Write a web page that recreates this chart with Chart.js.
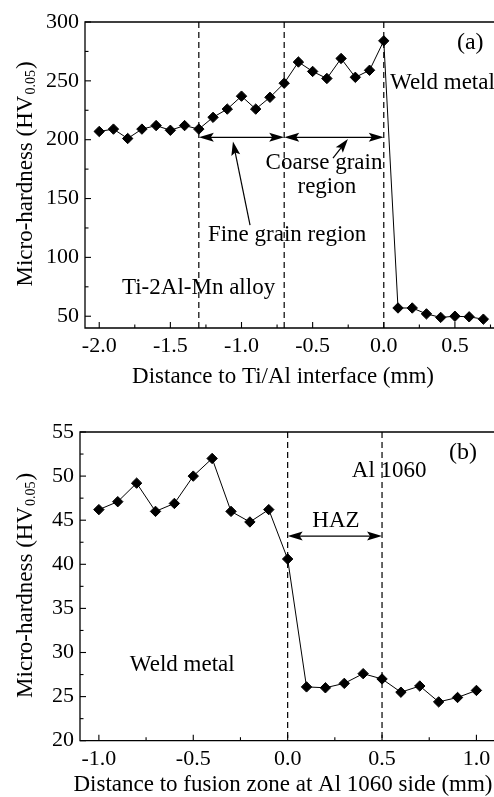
<!DOCTYPE html>
<html><head><meta charset="utf-8">
<script src="https://cdn.jsdelivr.net/npm/chart.js@4/dist/chart.umd.min.js"></script>
<style>
html,body{margin:0;padding:0;background:#fff;overflow:hidden;width:494px;height:797px;position:relative;}
.wrap{position:absolute;left:0;width:520px;}
#w1{top:0;height:400px;}
#w2{top:400px;height:397px;}
canvas{display:block;}
</style></head><body>
<div class="wrap" id="w1"><canvas id="c1" width="520" height="400"></canvas></div>
<div class="wrap" id="w2"><canvas id="c2" width="520" height="397"></canvas></div>
<script>
// ---------- data (a) ----------
const distanceA = [-2.0,-1.9,-1.8,-1.7,-1.6,-1.5,-1.4,-1.3,-1.2,-1.1,-1.0,-0.9,-0.8,-0.7,-0.6,-0.5,-0.4,-0.3,-0.2,-0.1,0.0,0.1,0.2,0.3,0.4,0.5,0.6,0.7];
const hardnessA = [207,209,201,209,212,208,212,209,219,226,237,226,236,248,266,258,252,269,253,259,284,57,57,52,49,50,49.5,47.5];
const xTicksA = [-2.0,-1.5,-1.0,-0.5,0.0,0.5];
const yTicksA = [50,100,150,200,250,300];
// ---------- data (b) ----------
const distanceB = [-1.0,-0.9,-0.8,-0.7,-0.6,-0.5,-0.4,-0.3,-0.2,-0.1,0.0,0.1,0.2,0.3,0.4,0.5,0.6,0.7,0.8,0.9,1.0];
const hardnessB = [46.2,47.1,49.2,46.0,46.9,50.0,52.0,46.0,44.8,46.2,40.6,26.1,26.0,26.5,27.6,27.0,25.5,26.2,24.4,24.9,25.7];
const xTicksB = [-1.0,-0.5,0.0,0.5,1.0];
const yTicksB = [20,25,30,35,40,45,50,55];

const SERIF = "'Liberation Serif','DejaVu Serif',serif";
const f = s => s + 'px ' + SERIF;

function minorTicks(majors, min, max){
  const step = majors[1]-majors[0], out=[];
  for(let i=-1;i<majors.length;i++){
    const v = i<0 ? majors[0]-step/2 : majors[i]+step/2;
    if(v>min+1e-9 && v<max-1e-9) out.push(v);
  }
  return out;
}
function head(ctx, tx, ty, ang, len, half){
  const c=Math.cos(ang), s=Math.sin(ang);
  ctx.beginPath();
  ctx.moveTo(tx,ty);
  ctx.lineTo(tx-len*c+half*s, ty-len*s-half*c);
  ctx.lineTo(tx-len*c*0.8, ty-len*s*0.8);
  ctx.lineTo(tx-len*c-half*s, ty-len*s+half*c);
  ctx.closePath(); ctx.fill();
}
function yTitle(ctx, cx, cy){
  const a='Micro-hardness (HV', b='0.05', c=')';
  ctx.save();
  ctx.translate(cx, cy); ctx.rotate(-Math.PI/2);
  ctx.fillStyle='#000'; ctx.textBaseline='alphabetic'; ctx.textAlign='left';
  ctx.font=f(23); const wa=ctx.measureText(a).width, wc=ctx.measureText(c).width;
  ctx.font=f(14); const wb=ctx.measureText(b).width;
  let x=-(wa+wb+wc)/2;
  ctx.font=f(23); ctx.fillText(a,x,8); x+=wa;
  ctx.font=f(14); ctx.fillText(b,x+1,11); x+=wb+2;
  ctx.font=f(23); ctx.fillText(c,x,8);
  ctx.restore();
}

const framePlugin = {
  id:'frame',
  beforeDatasetsDraw(chart, args, o){
    const ctx=chart.ctx, xs=chart.scales.x, {top,bottom}=chart.chartArea;
    ctx.save(); ctx.strokeStyle='#000'; ctx.lineWidth=1.2; ctx.setLineDash([6,4]);
    o.dashed.forEach(v=>{ const p=xs.getPixelForValue(v); ctx.beginPath(); ctx.moveTo(p,top); ctx.lineTo(p,bottom); ctx.stroke(); });
    ctx.restore();
  },
  afterDraw(chart, args, o){
    const ctx=chart.ctx, xs=chart.scales.x, ys=chart.scales.y;
    const {left,right,top,bottom}=chart.chartArea;
    ctx.save();
    ctx.strokeStyle='#000'; ctx.fillStyle='#000'; ctx.lineWidth=1.3; ctx.setLineDash([]);
    ctx.beginPath(); ctx.moveTo(left,top); ctx.lineTo(right,top); ctx.lineTo(right,bottom); ctx.lineTo(left,bottom); ctx.closePath(); ctx.stroke();
    ctx.lineWidth=1.1;
    const tick=(vals,len,isX)=>vals.forEach(v=>{
      ctx.beginPath();
      if(isX){ const p=xs.getPixelForValue(v); ctx.moveTo(p,bottom); ctx.lineTo(p,bottom-len); }
      else { const p=ys.getPixelForValue(v); ctx.moveTo(left,p); ctx.lineTo(left+len,p); }
      ctx.stroke();
    });
    tick(o.xMaj,6,true); tick(minorTicks(o.xMaj,xs.min,xs.max),3.5,true);
    tick(o.yMaj,6,false); tick(minorTicks(o.yMaj,ys.min,ys.max),3.5,false);
    // double arrows
    ctx.lineWidth=1.4;
    o.spans.forEach(s=>{
      const a=xs.getPixelForValue(s[0]), b=xs.getPixelForValue(s[1]), y=ys.getPixelForValue(s[2]);
      ctx.beginPath(); ctx.moveTo(a+4,y); ctx.lineTo(b-4,y); ctx.stroke();
      head(ctx,a,y,Math.PI,15,4.5); head(ctx,b,y,0,15,4.5);
    });
    // pointer arrows
    ctx.lineWidth=1.2;
    o.pointers.forEach(p=>{
      const x1=xs.getPixelForValue(p[0]), y1=ys.getPixelForValue(p[1]), x2=xs.getPixelForValue(p[2]), y2=ys.getPixelForValue(p[3]);
      const ang=Math.atan2(y2-y1,x2-x1);
      ctx.beginPath(); ctx.moveTo(x1,y1); ctx.lineTo(x2-8*Math.cos(ang),y2-8*Math.sin(ang)); ctx.stroke();
      head(ctx,x2,y2,ang,14,4.5);
    });
    // labels
    ctx.textBaseline='middle';
    o.labels.forEach(l=>{
      ctx.font=f(l[4]||23); ctx.textAlign=l[3];
      ctx.fillText(l[0], xs.getPixelForValue(l[1]), ys.getPixelForValue(l[2]));
    });
    // axis titles
    ctx.textAlign='center'; ctx.font=f(23);
    ctx.fillText(o.xTitle, o.xTitleX, o.xTitleY);
    yTitle(ctx, o.yTitleX, (top+bottom)/2);
    ctx.restore();
  }
};

function makeChart(id, xs, ys, xmin, xmax, ymin, ymax, xTicks, yTicks, yWidth, xHeight, pad, frame, xDec){
  return new Chart(document.getElementById(id), {
    type:'line',
    data:{ datasets:[{
      data: xs.map((x,i)=>({x:x, y:ys[i]})),
      borderColor:'#000', borderWidth:1, tension:0,
      pointStyle:'rectRot', pointRadius:5.2, pointBackgroundColor:'#000', pointBorderColor:'#000', pointBorderWidth:1
    }]},
    options:{
      responsive:false, animation:false, devicePixelRatio:1, events:[],
      layout:{padding:pad},
      plugins:{ legend:{display:false}, tooltip:{enabled:false}, frame: frame },
      scales:{
        x:{ type:'linear', min:xmin, max:xmax,
            grid:{display:false, drawTicks:false}, border:{display:false},
            afterBuildTicks: s=>{ s.ticks = xTicks.map(v=>({value:v})); },
            afterFit: s=>{ s.height = xHeight; },
            ticks:{ autoSkip:false, maxRotation:0, padding:5, color:'#000', font:{family:SERIF, size:22},
                    callback: v=>Number(v).toFixed(xDec) } },
        y:{ type:'linear', min:ymin, max:ymax,
            grid:{display:false, drawTicks:false}, border:{display:false},
            afterBuildTicks: s=>{ s.ticks = yTicks.map(v=>({value:v})); },
            afterFit: s=>{ s.width = yWidth; },
            ticks:{ autoSkip:false, padding:6, color:'#000', font:{family:SERIF, size:22},
                    callback: v=>String(v) } }
      }
    },
    plugins:[framePlugin]
  });
}

makeChart('c1', distanceA, hardnessA, -2.1, 0.8, 40, 300, xTicksA, yTicksA, 85, 72,
  {top:22, right:22.4, left:0, bottom:0},
  { dashed:[-1.3,-0.7,0.0], xMaj:xTicksA, yMaj:yTicksA,
    spans:[[-1.3,-0.7,202],[-0.7,0.0,202]],
    pointers:[[-0.357,184.4,-0.252,200.6],[-0.94,127.5,-1.06,198.5]],
    labels:[['(a)',0.514,282,'left',24],['Weld metal',0.044,248,'left'],['Coarse grain',-0.42,180,'center'],['region',-0.40,160,'center'],
            ['Fine grain region',-1.236,119,'left'],['Ti-2Al-Mn alloy',-1.84,74,'left']],
    xTitle:'Distance to Ti/Al interface (mm)', xTitleX:283, xTitleY:377, yTitleX:24 }, 1);

makeChart('c2', distanceB, hardnessB, -1.1, 1.1, 20, 55, xTicksB, yTicksB, 80, 56.3,
  {top:32, right:24.7, left:0, bottom:0},
  { dashed:[0.0,0.5], xMaj:xTicksB, yMaj:yTicksB,
    spans:[[0.0,0.5,43.2]], pointers:[],
    labels:[['(b)',0.855,52.65,'left',24],['Al 1060',0.34,50.6,'left'],['HAZ',0.256,44.9,'center'],['Weld metal',-0.836,28.6,'left']],
    xTitle:'Distance to fusion zone at Al 1060 side (mm)', xTitleX:283, xTitleY:385, yTitleX:24 }, 1);
</script>
</body></html>
